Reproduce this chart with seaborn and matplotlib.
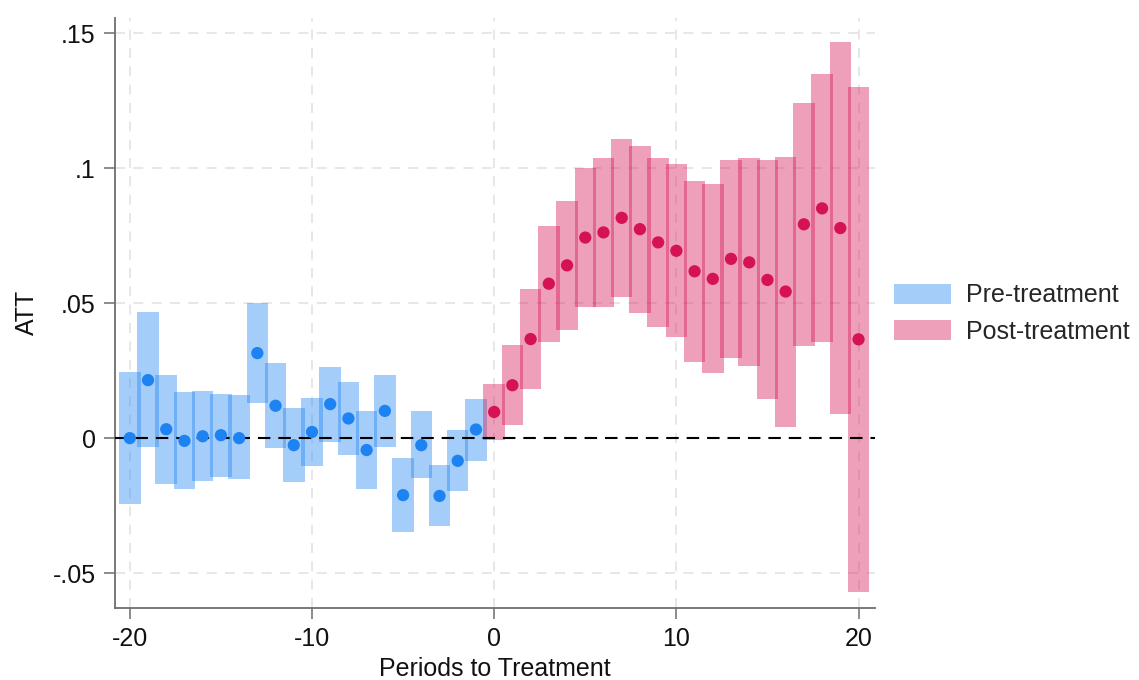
import numpy as np
import pandas as pd
import matplotlib
matplotlib.use("Agg")
import matplotlib.pyplot as plt
from matplotlib.patches import Patch
import seaborn as sns

# Event-study estimates: periods relative to treatment, ATT and 95% CI bounds
periods_pre = list(range(-20, 0))
att_pre = [0.0000, 0.0215, 0.0033, -0.0010, 0.0007, 0.0011, 0.0000, 0.0315, 0.0120, -0.0026,
           0.0023, 0.0126, 0.0073, -0.0044, 0.0101, -0.0211, -0.0026, -0.0214, -0.0084, 0.0032]
lo_pre = [-0.0245, -0.0034, -0.0170, -0.0188, -0.0160, -0.0143, -0.0152, 0.0130, -0.0036, -0.0162,
          -0.0104, -0.0014, -0.0063, -0.0190, -0.0032, -0.0347, -0.0149, -0.0325, -0.0196, -0.0084]
hi_pre = [0.0245, 0.0466, 0.0233, 0.0170, 0.0174, 0.0165, 0.0160, 0.0500, 0.0279, 0.0110,
          0.0147, 0.0264, 0.0209, 0.0100, 0.0233, -0.0073, 0.0100, -0.0100, 0.0030, 0.0144]

periods_post = list(range(0, 21))
att_post = [0.0097, 0.0196, 0.0367, 0.0572, 0.0640, 0.0743, 0.0762, 0.0816, 0.0774, 0.0725, 0.0694,
            0.0618, 0.0590, 0.0664, 0.0651, 0.0586, 0.0543, 0.0792, 0.0851, 0.0778, 0.0366]
lo_post = [-0.0005, 0.0048, 0.0181, 0.0357, 0.0400, 0.0486, 0.0486, 0.0523, 0.0465, 0.0410, 0.0373,
           0.0282, 0.0241, 0.0296, 0.0267, 0.0145, 0.0042, 0.0340, 0.0356, 0.0090, -0.0571]
hi_post = [0.0199, 0.0344, 0.0554, 0.0786, 0.0879, 0.1001, 0.1038, 0.1107, 0.1083, 0.1038, 0.1015,
           0.0952, 0.0940, 0.1032, 0.1036, 0.1032, 0.1041, 0.1241, 0.1350, 0.1467, 0.1302]

phase_labels = ["Pre-treatment", "Post-treatment"]
x_ticks = [-20, -10, 0, 10, 20]
y_ticks = [-0.05, 0, 0.05, 0.1, 0.15]
y_tick_labels = ["-.05", "0", ".05", ".1", ".15"]

df = pd.concat([
    pd.DataFrame({"period": periods_pre, "att": att_pre, "lo": lo_pre, "hi": hi_pre,
                  "phase": phase_labels[0]}),
    pd.DataFrame({"period": periods_post, "att": att_post, "lo": lo_post, "hi": hi_post,
                  "phase": phase_labels[1]}),
], ignore_index=True)

colors = {"Pre-treatment": "#1e83f2", "Post-treatment": "#d61256"}
band_alpha = 0.4
text_color = "#111111"
fs = 18

sns.set_theme(style="white")
plt.rcParams["font.family"] = ["Liberation Sans", "DejaVu Sans"]

fig = plt.figure(figsize=(11.39, 6.80), dpi=100)
ax = fig.add_axes([0.101, 0.1063, 0.667, 0.8672])

# confidence intervals as wide translucent bars
for phase, sub in df.groupby("phase", sort=False):
    ax.bar(sub["period"], sub["hi"] - sub["lo"], bottom=sub["lo"], width=1.18,
           color=colors[phase], alpha=band_alpha, linewidth=0, zorder=2)

# point estimates
sns.scatterplot(data=df, x="period", y="att", hue="phase", palette=colors,
                s=78, linewidth=0, legend=False, ax=ax, zorder=4)

ax.axhline(0, color="black", lw=1.5, ls=(0, (6, 3.8)), zorder=3)

ax.set_xlim(-20.81, 20.89)
ax.set_ylim(-0.0628, 0.1556)
ax.set_xticks(x_ticks)
ax.set_xticklabels([str(t) for t in x_ticks])
ax.set_yticks(y_ticks)
ax.set_yticklabels(y_tick_labels)

grid_kw = dict(color="#e3e3e3", lw=1.2, ls=(0, (6, 5)), zorder=0)
for t in x_ticks:
    ax.axvline(t, **grid_kw)
for t in y_ticks:
    if t != 0:
        ax.axhline(t, **grid_kw)

for side in ["top", "right"]:
    ax.spines[side].set_visible(False)
for side in ["left", "bottom"]:
    ax.spines[side].set_color("#6e6e6e")
    ax.spines[side].set_linewidth(1.3)

ax.tick_params(axis="both", which="major", direction="out", length=8, width=1.1,
               color="#6e6e6e", labelsize=fs, labelcolor=text_color, pad=6,
               left=True, bottom=True)
ax.set_xlabel("Periods to Treatment", fontsize=fs, color=text_color, labelpad=4)
ax.set_ylabel("ATT", fontsize=fs, color=text_color, labelpad=10)

handles = [Patch(facecolor=colors[p], alpha=band_alpha, edgecolor="none") for p in phase_labels]
fig.legend(handles, phase_labels, loc="center left", bbox_to_anchor=(0.776, 0.539),
           frameon=False, fontsize=fs, handlelength=2.3, handleheight=0.85,
           handletextpad=0.6, labelspacing=0.5, borderaxespad=0)

fig.savefig("out.png", dpi=100, facecolor="white")
